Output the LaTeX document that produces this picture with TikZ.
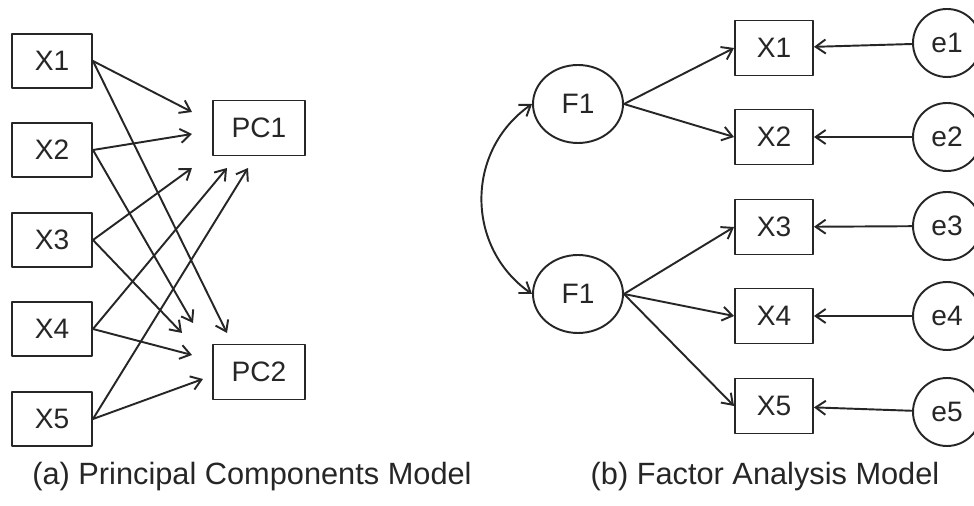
\documentclass[tikz,border=0pt]{standalone}
\usepackage{fontspec}
\setmainfont{Liberation Sans}
\usetikzlibrary{arrows.meta}
\usetikzlibrary{positioning}
\usetikzlibrary{shapes.geometric}
\definecolor{ink}{gray}{0.15}
\tikzstyle{every node}=[font=\fontsize{16}{19}\selectfont]
\tikzstyle{every path}=[line width=1.1pt,line cap=round,line join=round]
\tikzstyle{obsbox}=[draw, rectangle, minimum width=16mm, minimum height=10.8mm, inner sep=0pt]
\tikzstyle{pcbox}=[obsbox, minimum width=18.4mm, minimum height=11mm]
\tikzstyle{factor}=[draw, ellipse, minimum width=18mm, minimum height=15.6mm, inner sep=0pt]
\tikzstyle{err}=[draw, circle, minimum size=13.6mm, inner sep=0pt]
\tikzstyle{load}=[-{Straight Barb[length=2mm,width=2.8mm]}]

\begin{document}
\begin{tikzpicture}[x=0.2mm,y=0.2mm,color=ink]
  \useasboundingbox (0,0) rectangle (974,506);
  % (a) principal components
  \foreach \i/\yy in {1/445,2/356,3/266,4/177,5/87}
    \node[obsbox] (x\i) at (52,\yy) {X\i};
  \node[pcbox] (pc1) at (259,378) {PC1};
  \node[pcbox] (pc2) at (259,134) {PC2};
  % loadings, free ends short of PC1 / PC2
  \foreach \i/\ax/\ay/\bx/\by in {1/192/394/227/173,2/192/372/193/183,
      3/192/338/182/173,4/227/338/192/151,5/248/338/203/127}
   {
    \coordinate (t\i1) at (\ax,\ay);
    \coordinate (t\i2) at (\bx,\by);
    \draw[load] (x\i.east) -- (t\i1);
    \draw[load] (x\i.east) -- (t\i2);
   }
  % (b) factor analysis
  \node[factor] (f1) at (578,402) {F1};
  \node[factor] (f2) at (578,212) {F1};
  \foreach \i/\yy/\ey in {1/458/463,2/369/369,3/279/280,4/190/190,5/100/94}
   {
    \node[obsbox, minimum width=15.6mm, minimum height=11mm] (v\i) at (774,\yy) {X\i};
    \node[err] (e\i) at (947,\ey) {e\i};
    \draw[load] (e\i) -- (v\i);
   }
  \foreach \i in {1,2}
    \draw[load] (f1.east) -- (v\i.west);
  \foreach \i in {3,4,5}
    \draw[load] (f2.east) -- (v\i.west);
  \draw[{Straight Barb[length=2mm,width=2.8mm]}-{Straight Barb[length=2mm,width=2.8mm]}]
    (f1.west) to[out=215,in=145,looseness=1.1] (f2.west);
  % captions
  \node[anchor=base, font=\fontsize{17.5}{21}\selectfont] (capa) at (252,21)
    {(a) Principal Components Model};
  \node[anchor=base, font=\fontsize{17.5}{21}\selectfont] (capb) at (765,21)
    {(b) Factor Analysis Model};
\end{tikzpicture}
\end{document}
